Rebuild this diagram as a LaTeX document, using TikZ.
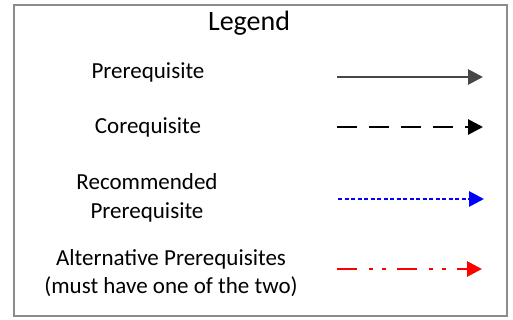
\documentclass[tikz,border=0pt]{standalone}
\usepackage{fontspec}
\setmainfont{Carlito}
\usetikzlibrary{arrows.meta}
\begin{document}
\begin{tikzpicture}[x=1pt,y=-1pt,
  lbl/.style={font=\fontsize{23}{28.5}\selectfont, align=center, inner sep=0pt},
  tip/.style={-{Triangle[length=15pt,width=15pt]}},
  lgline/.style={line width=2.8pt, tip}]
\useasboundingbox (0,0) rectangle (513,320);
\draw[draw=gray!90, line width=1.6pt, fill=white] (14,5) rectangle (507,316);
\node[font=\fontsize{28}{32}\selectfont, inner sep=0pt] (title) at (249,23) {Legend};
\node[lbl] (t1) at (148,72) {Prerequisite};
\node[lbl] (t2) at (148,127) {Corequisite};
\node[lbl] (t3) at (147,198) {Recommended\\Prerequisite};
\node[lbl] (t4) at (171,273) {Alternative Prerequisites\\(must have one of the two)};
\coordinate (a1) at (337,77); \coordinate (b1) at (483,77);
\coordinate (a2) at (337,127); \coordinate (b2) at (483,127);
\coordinate (a3) at (338,199); \coordinate (b3) at (484,199);
\coordinate (a4) at (337,269); \coordinate (b4) at (482,269);
\draw[lgline, draw=black!72, fill=black!72] (a1) -- (b1);
\draw[lgline, draw=black, dash pattern=on 20pt off 12pt] (a2) -- (b2);
\draw[lgline, draw=blue, dash pattern=on 4pt off 2.5pt] (a3) -- (b3);
\draw[lgline, draw=red, dash pattern=on 20pt off 12pt on 3.5pt off 9.5pt on 3.5pt off 11.5pt] (a4) -- (b4);
\end{tikzpicture}
\end{document}
